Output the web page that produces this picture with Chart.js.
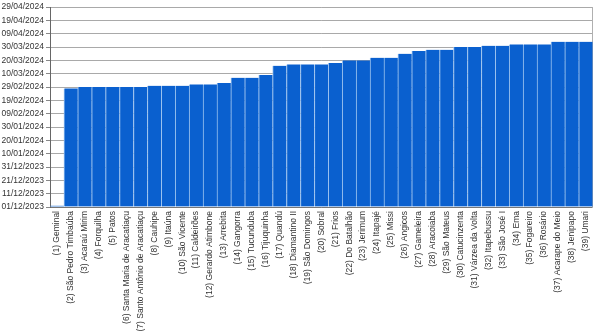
<!DOCTYPE html>
<html>
<head>
<meta charset="utf-8">
<script src="https://cdn.jsdelivr.net/npm/chart.js@4/dist/chart.umd.min.js"></script>
<style>
  html, body { margin: 0; padding: 0; background: #ffffff; }
  #wrap { width: 600px; height: 332px; position: relative; }
</style>
</head>
<body>
<div id="wrap"><canvas id="chart"></canvas></div>
<script>
// Reservoirs, in ranking order
const categories = [
  '(1) Geminal', '(2) São Pedro Timbaúba', '(3) Acaraú Mirim', '(4) Forquilha', '(5) Patos',
  '(6) Santa Maria de Aracatiaçu', '(7) Santo Antônio de Aracatiaçu', '(8) Cauhipe', '(9) Itaúna',
  '(10) São Vicente', '(11) Caldeirões', '(12) Gerardo Atimbone', '(13) Arrebita', '(14) Gangorra',
  '(15) Tucunduba', '(16) Tijuquinha', '(17) Quandú', '(18) Diamantino II', '(19) São Domingos',
  '(20) Sobral', '(21) Frios', '(22) Do Batalhão', '(23) Jerimum', '(24) Itapajé', '(25) Missi',
  '(26) Angicos', '(27) Gameleira', '(28) Aracoiaba', '(29) São Mateus', '(30) Catucinzenta',
  '(31) Várzea da Volta', '(32) Itapebussu', '(33) São José I', '(34) Ema', '(35) Fogareiro',
  '(36) Rosário', '(37) Acarape do Meio', '(38) Jenipapo', '(39) Umari'
];

// Date reached by each reservoir
const dates = [
  '02/12/2023', '28/02/2024', '29/02/2024', '29/02/2024', '29/02/2024',
  '29/02/2024', '29/02/2024', '01/03/2024', '01/03/2024',
  '01/03/2024', '02/03/2024', '02/03/2024', '03/03/2024', '07/03/2024',
  '07/03/2024', '09/03/2024', '16/03/2024', '17/03/2024', '17/03/2024',
  '17/03/2024', '18/03/2024', '20/03/2024', '20/03/2024', '22/03/2024', '22/03/2024',
  '25/03/2024', '27/03/2024', '28/03/2024', '28/03/2024', '30/03/2024',
  '30/03/2024', '31/03/2024', '31/03/2024', '01/04/2024', '01/04/2024',
  '01/04/2024', '03/04/2024', '03/04/2024', '03/04/2024'
];

// Vertical axis labels, one every 10 days starting at the origin date
const tickLabels = [
  '01/12/2023', '11/12/2023', '21/12/2023', '31/12/2023', '10/01/2024', '20/01/2024',
  '30/01/2024', '09/02/2024', '19/02/2024', '29/02/2024', '10/03/2024', '20/03/2024',
  '30/03/2024', '09/04/2024', '19/04/2024', '29/04/2024'
];

const originDate = tickLabels[0];

function toUTC(s) {
  const [d, m, y] = s.split('/').map(Number);
  return Date.UTC(y, m - 1, d);
}
// days elapsed since the origin date
function dayIndex(s) {
  return Math.round((toUTC(s) - toUTC(originDate)) / 86400000);
}

const values = dates.map(dayIndex);
const yMax = dayIndex(tickLabels[tickLabels.length - 1]);

const font = { family: "'Liberation Sans', Arial, sans-serif", size: 8.5 };

new Chart(document.getElementById('chart'), {
  type: 'bar',
  data: {
    labels: categories,
    datasets: [{
      data: values,
      backgroundColor: '#0a60cf',
      borderColor: '#9cc3ef',
      borderWidth: { top: 0, right: 0, bottom: 0, left: 1 },
      borderSkipped: false,
      barPercentage: 1,
      categoryPercentage: 1
    }]
  },
  options: {
    responsive: true,
    maintainAspectRatio: false,
    animation: false,
    layout: { padding: { top: 0, right: 0, bottom: 0, left: 0 } },
    plugins: { legend: { display: false }, tooltip: { enabled: false } },
    scales: {
      x: {
        ticks: {
          autoSkip: false, maxRotation: 90, minRotation: 90,
          padding: 4, color: '#333333', font: font
        },
        grid: { display: true, drawOnChartArea: false, drawTicks: false },
        border: { display: true, color: '#777777', width: 1 },
        afterFit(scale) { scale.height = 125; }
      },
      y: {
        min: 0, max: yMax,
        ticks: {
          stepSize: 10, padding: 2, color: '#333333', font: font,
          callback: (v) => tickLabels[Math.round(v / 10)]
        },
        grid: { color: '#a9a9a9', lineWidth: 1, tickLength: 4, tickColor: '#888888' },
        border: { display: true, color: '#666666', width: 1 },
        afterFit(scale) { scale.width = 50; }
      },
      yRight: {
        position: 'right',
        min: 0, max: yMax,
        ticks: { display: false },
        grid: { drawOnChartArea: false, drawTicks: false },
        border: { display: true, color: '#b0b0b0', width: 1 },
        afterFit(scale) { scale.width = 3; }
      }
    }
  }
});
</script>
</body>
</html>
